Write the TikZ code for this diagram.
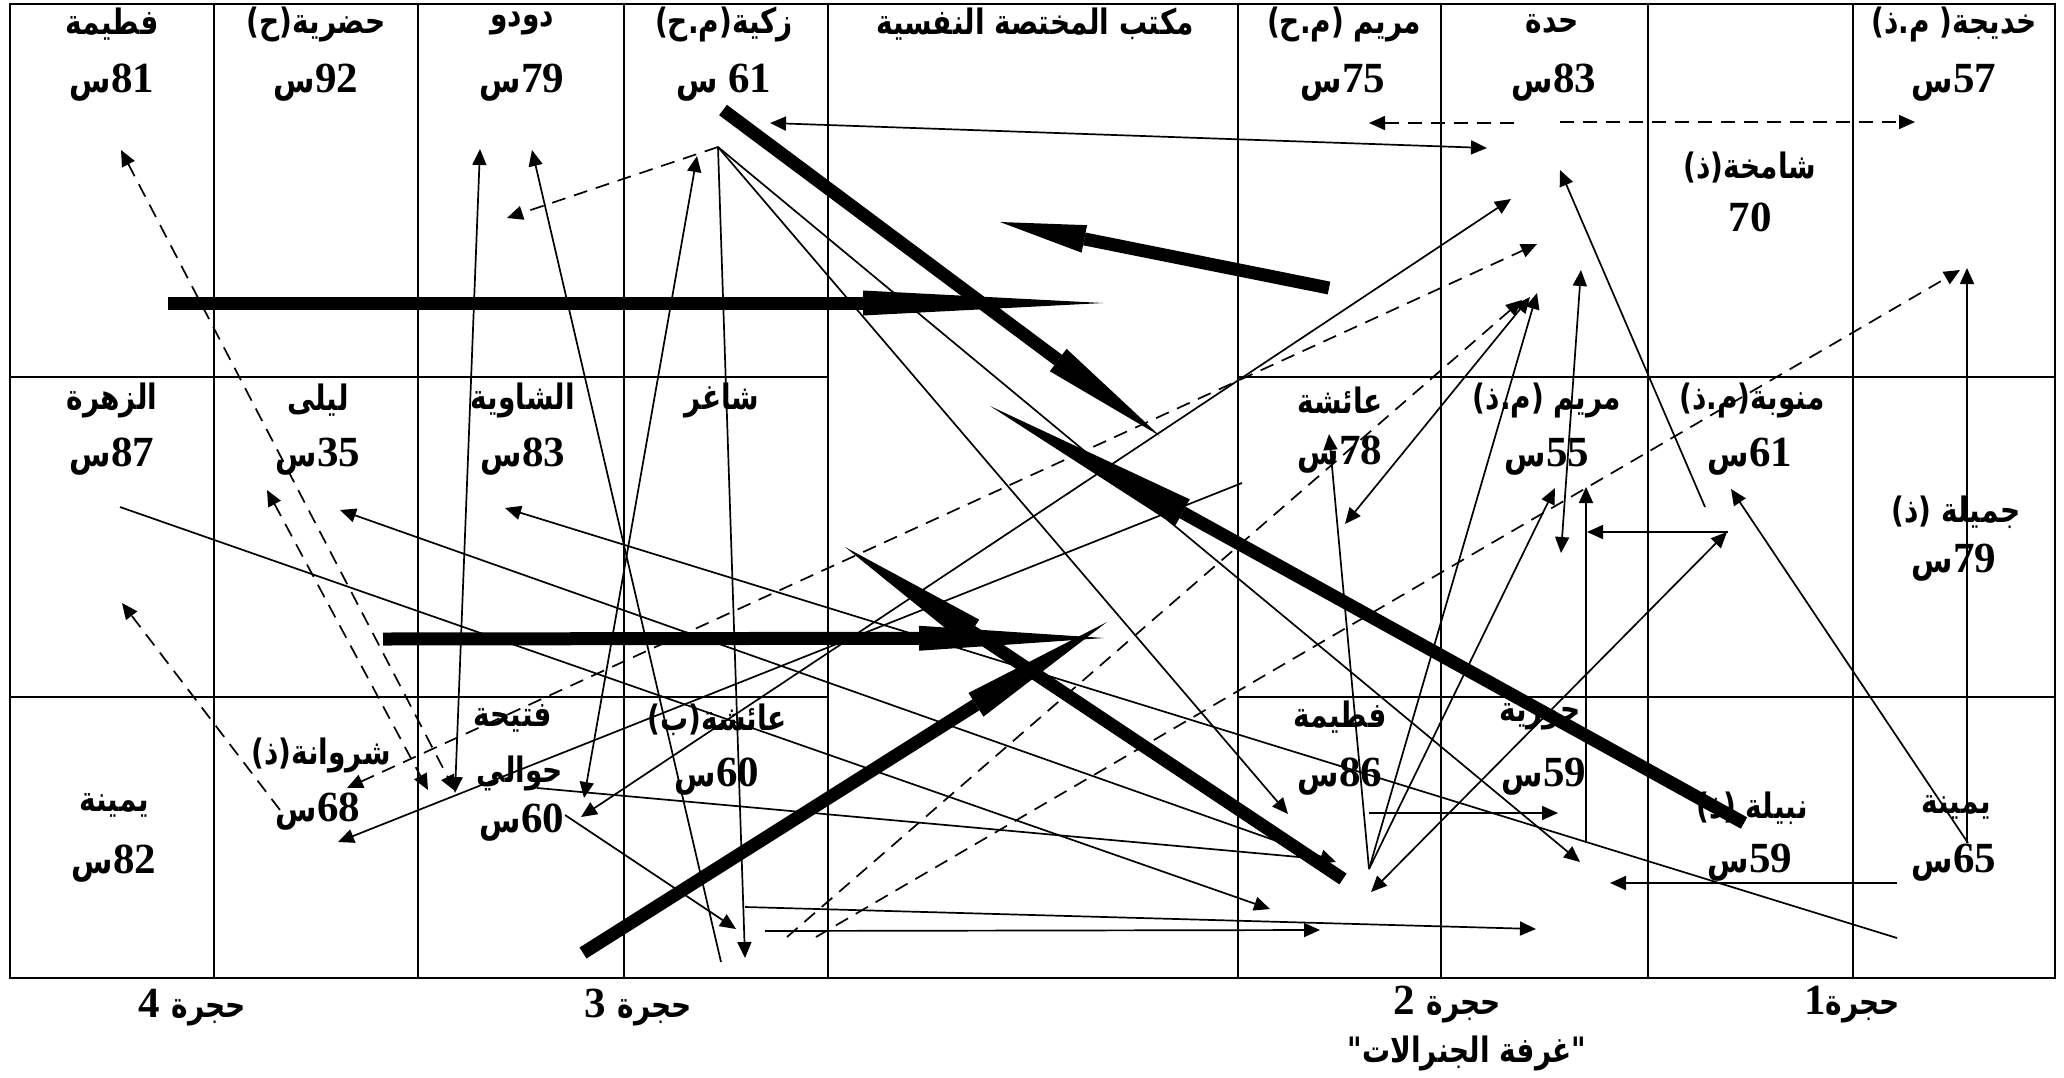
\documentclass[tikz,border=0pt]{standalone}
\usepackage{fontspec}
\usepackage{graphicx}
\usetikzlibrary{arrows.meta,calc}
\TeXXeTstate=1
\newfontfamily\arabicfont[Script=Arabic]{DejaVu Sans}
\newfontfamily\numfont{Liberation Serif}
\newcommand\AR[1]{\scalebox{1}[1.25]{\arabicfont\bfseries\fontsize{28}{32}\selectfont\beginR #1\endR}}
\newcommand\SIN{\scalebox{1}[1.2]{\arabicfont\bfseries\fontsize{30}{34}\selectfont س}}
\newcommand\NN[1]{{\numfont\bfseries\fontsize{43}{48}\selectfont #1}}
\newcommand\NS[1]{\hbox{\SIN\NN{#1}}}
\newcommand\NSs[1]{\hbox{\SIN\hspace{10pt}\NN{#1}}}
\newcommand\heavyarrow[4]{% start, tip, head length, half width
  \coordinate (hb) at ($(#2)!#3!(#1)$);
  \draw[heavy] (#1) -- (hb);
  \fill (hb) -- ($(hb)!#4!90:(#2)$) -- (#2) -- ($(hb)!#4!-90:(#2)$) -- cycle;
}
\tikzset{
  gridline/.style={line width=2.6pt},
  tx/.style={inner sep=0pt, anchor=center},
  arr/.style={line width=1.7pt, -{Triangle[length=16pt,width=14pt]}},
  arrb/.style={line width=1.7pt, {Triangle[length=16pt,width=14pt]}-{Triangle[length=16pt,width=14pt]}},
  ln/.style={line width=1.7pt},
  dsh/.style={dash pattern=on 14pt off 9pt},
  heavy/.style={line width=13pt},
}
\begin{document}
\begin{tikzpicture}[x=1pt,y=-1pt]
\useasboundingbox (0,0) rectangle (2064,1077);
% grid
\draw[gridline] (10,4) rectangle (2055,978);
\foreach \x in {214,418,624,828,1238,1441,1648,1853} \draw[gridline] (\x,4) -- (\x,978);
\foreach \y in {377,697} {\draw[gridline] (10,\y) -- (828,\y); \draw[gridline] (1238,\y) -- (2055,\y);}
% row 1
\node[tx] (n11) at (112,24) {\AR{فطيمة}};   \node[tx] (v11) at (112,83) {\NS{81}};
\node[tx] (n12) at (316,24) {\AR{حضرية(ح)}}; \node[tx] (v12) at (316,83) {\NS{92}};
\node[tx] (n13) at (522,24) {\AR{دودو}};    \node[tx] (v13) at (522,83) {\NS{79}};
\node[tx] (n14) at (724,24) {\AR{زكية(م.ح)}}; \node[tx] (v14) at (724,83) {\NSs{61}};
\node[tx] (off) at (1035,24) {\AR{مكتب المختصة النفسية}};
\node[tx] (n16) at (1344,24) {\AR{مريم (م.ح)}}; \node[tx] (v16) at (1343,83) {\NS{75}};
\node[tx] (n17) at (1552,24) {\AR{حدة}};    \node[tx] (v17) at (1554,83) {\NS{83}};
\node[tx] (n18) at (1750,168) {\AR{شامخة(ذ)}}; \node[tx] (v18) at (1750,217) {\NN{70}};
\node[tx] (n19) at (1954,24) {\AR{خديجة( م.ذ)}}; \node[tx] (v19) at (1954,83) {\NS{57}};
% row 2
\node[tx] (n21) at (112,400) {\AR{الزهرة}};  \node[tx] (v21) at (112,457) {\NS{87}};
\node[tx] (n22) at (318,400) {\AR{ليلى}};    \node[tx] (v22) at (318,457) {\NS{35}};
\node[tx] (n23) at (523,400) {\AR{الشاوية}}; \node[tx] (v23) at (523,457) {\NS{83}};
\node[tx] (n24) at (722,400) {\AR{شاغر}};
\node[tx] (n26) at (1340,400) {\AR{عائشة}};  \node[tx] (v26) at (1340,455) {\NS{78}};
\node[tx] (n27) at (1547,400) {\AR{مريم (م.ذ)}}; \node[tx] (v27) at (1547,457) {\NS{55}};
\node[tx] (n28) at (1752,400) {\AR{منوبة(م.ذ)}}; \node[tx] (v28) at (1750,457) {\NS{61}};
\node[tx] (n29) at (1956,512) {\AR{جميلة (ذ)}}; \node[tx] (v29) at (1954,563) {\NS{79}};
% row 3
\node[tx] (n31) at (114,805) {\AR{يمينة}};   \node[tx] (v31) at (114,864) {\NS{82}};
\node[tx] (n32) at (321,755) {\AR{شروانة(ذ)}}; \node[tx] (v32) at (318,812) {\NS{68}};
\node[tx] (n33) at (513,718) {\AR{فتيحة}};
\node[tx] (n33b) at (520,773) {\AR{حوالي}};  \node[tx] (v33) at (522,823) {\NS{60}};
\node[tx] (n34) at (717,720) {\AR{عائشة(ب)}}; \node[tx] (v34) at (717,777) {\NS{60}};
\node[tx] (n36) at (1340,717) {\AR{فطيمة}};  \node[tx] (v36) at (1340,777) {\NS{86}};
\node[tx] (n37) at (1540,717) {\AR{حورية}};  \node[tx] (v37) at (1544,777) {\NS{59}};
\node[tx] (n38) at (1752,808) {\AR{نبيلة (ذ)}}; \node[tx] (v38) at (1750,863) {\NS{59}};
\node[tx] (n39) at (1956,807) {\AR{يمينة}};  \node[tx] (v39) at (1954,863) {\NS{65}};
% bottom labels
\node[tx] (h4) at (192,1008) {\hbox{\NN{4}\hspace{12pt}\AR{حجرة}}};
\node[tx] (h3) at (638,1008) {\hbox{\NN{3}\hspace{12pt}\AR{حجرة}}};
\node[tx] (h2) at (1447,1005) {\hbox{\NN{2}\hspace{12pt}\AR{حجرة}}};
\node[tx] (gj) at (1467,1053) {\AR{"غرفة الجنرالات"}};
\node[tx] (h1) at (1852,1005) {\hbox{\NN{1}\AR{حجرة}}};
% hubs
\coordinate (hubZ) at (718,147);
\coordinate (hubF) at (1369,869);
% heavy arrows
\coordinate (t1s) at (168,303);  \coordinate (t1e) at (1103,303);
\coordinate (t2s) at (1329,288); \coordinate (t2e) at (1000,222);
\coordinate (t3s) at (723,110);  \coordinate (t3e) at (1160,436);
\coordinate (t4s) at (1744,823); \coordinate (t4e) at (990,406);
\coordinate (t5s) at (383,639);  \coordinate (t5e) at (1104,638);
\coordinate (t6s) at (583,953);  \coordinate (t6e) at (1107,622);
\coordinate (t7s) at (1343,879); \coordinate (t7e) at (845,547);
\heavyarrow{t1s}{t1e}{240pt}{12.5pt}
\heavyarrow{t2s}{t2e}{86pt}{14pt}
\heavyarrow{t3s}{t3e}{127pt}{14pt}
\heavyarrow{t4s}{t4e}{220pt}{15pt}
\heavyarrow{t5s}{t5e}{185pt}{12.5pt}
\heavyarrow{t6s}{t6e}{155pt}{14pt}
\heavyarrow{t7s}{t7e}{152pt}{14pt}
% thin arrows, left part
\draw[arrb,dsh] (121,150) -- (455,791);
\draw[arrb,dsh] (267,490) -- (428,790);
\draw[arr,dsh] (280,810) -- (122,603);
\draw[arrb] (480,149) -- (455,793);
\draw[arr] (721,962) -- (532,150);
\draw[arr,dsh] (hubZ) -- (507,218);
\draw[arrb] (584,798) -- (697,156);
\draw[arr] (hubZ) -- (745,958);
\draw[arr] (hubZ) -- (1288,814);
\draw[arr] (hubZ) -- (1580,862);
\draw[arr] (120,507) -- (1270,909);
\draw[arrb] (1336,862) -- (340,510);
\draw[ln] (537,788) -- (1310,858);
\draw[arr] (565,815) -- (736,929);
\draw[arr] (1897,938) -- (505,508);
\draw[arr] (1242,483) -- (338,842);
\draw[arrb,dsh] (347,788) -- (1537,244);
\draw[arrb] (1511,199) -- (581,817);
\draw[arr] (745,907) -- (1536,929);
\draw[arr] (765,931) -- (1320,930);
\draw[arr,dsh] (787,937) -- (1522,300);
\draw[arr,dsh] (816,937) -- (1960,270);
% thin arrows, right part
\draw[arrb] (770,123) -- (1487,148);
\draw[arr,dsh] (1514,123) -- (1369,123);
\draw[arr,dsh] (1560,122) -- (1915,122);
\draw[arr] (1705,507) -- (1560,170);
\draw[arrb] (1581,270) -- (1561,553);
\draw[arr] (hubF) -- (1555,488);
\draw[arr] (hubF) -- (1537,293);
\draw[arrb] (1530,297) -- (1345,524);
\draw[arr] (hubF) -- (1329,434);
\draw[arrb] (1371,892) -- (1727,532);
\draw[arr] (1369,813) -- (1558,813);
\draw[arr] (1586,843) -- (1586,487);
\draw[arr] (1728,532) -- (1587,532);
\draw[arr] (1967,843) -- (1967,268);
\draw[arr] (1968,843) -- (1731,489);
\draw[arr] (1897,883) -- (1610,883);
\end{tikzpicture}
\end{document}
